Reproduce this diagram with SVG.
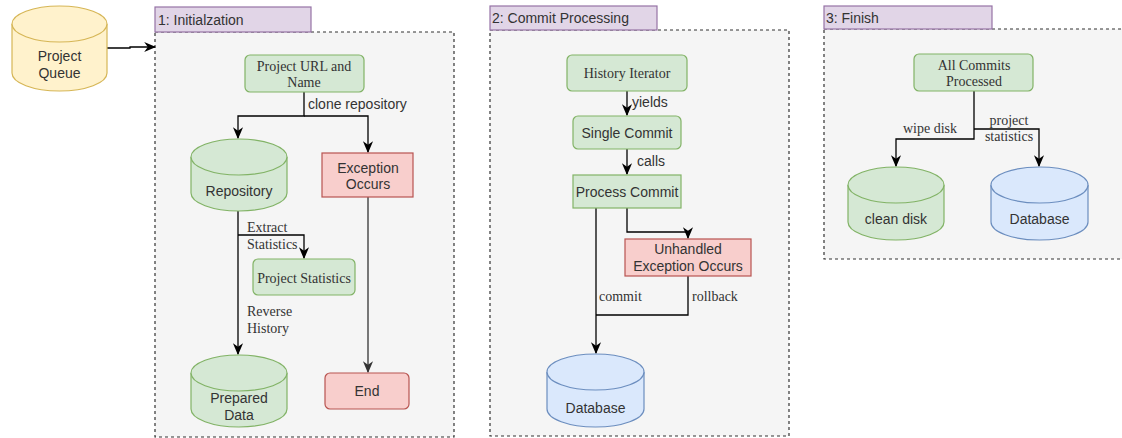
<svg xmlns="http://www.w3.org/2000/svg" width="1122" height="438" viewBox="0 0 1122 438">
<defs>
<marker id="arr" markerUnits="userSpaceOnUse" markerWidth="12" markerHeight="12" viewBox="0 0 10 10" refX="9" refY="5" orient="auto">
<path d="M0,0.8 L10,5 L0,9.2 L3,5 z" fill="#000"/>
</marker>
<marker id="arrg" markerUnits="userSpaceOnUse" markerWidth="12" markerHeight="12" viewBox="0 0 10 10" refX="9" refY="5" orient="auto">
<path d="M0,0.8 L10,5 L0,9.2 L3,5 z" fill="#333"/>
</marker>
</defs>
<style>
.sans{font-family:"Liberation Sans",Arial,sans-serif;font-size:14px;fill:#333}
.serif{font-family:"Liberation Serif","Times New Roman",serif;font-size:14px;fill:#333}
.c{text-anchor:middle;dominant-baseline:central}
.l{dominant-baseline:central}
.hdr{fill:#e1d5e7;stroke:#9673a6;stroke-width:1.2}
.cont{fill:#f5f5f5;stroke:#333;stroke-width:1.2;stroke-dasharray:3 3}
.green{fill:#d5e8d4;stroke:#82b366;stroke-width:1.2}
.red{fill:#f8cecc;stroke:#b85450;stroke-width:1.2}
.blue{fill:#dae8fc;stroke:#6c8ebf;stroke-width:1.2}
.yellow{fill:#fff2cc;stroke:#d6b656;stroke-width:1.2}
.edge{fill:none;stroke:#000;stroke-width:1.3}
.edgeg{fill:none;stroke:#777;stroke-width:2}
</style>

<g id="group1">
<rect class="cont" x="155" y="32" width="299" height="405"/>
<rect class="hdr" x="155" y="7" width="156" height="25"/>
<text class="sans l" x="158" y="19.5">1: Initialzation</text>
</g>
<g id="group2">
<rect class="cont" x="490" y="30" width="299" height="406"/>
<rect class="hdr" x="490" y="6" width="167" height="24"/>
<text class="sans l" x="492" y="18">2: Commit Processing</text>
</g>
<g id="group3">
<rect class="cont" x="824" y="29" width="300" height="230"/>
<rect class="hdr" x="824" y="6" width="168" height="23"/>
<text class="sans l" x="826" y="17.5">3: Finish</text>
</g>

<g id="connectors">
<path class="edge" d="M107,48 H130 V47 H155" marker-end="url(#arr)"/>
<path class="edge" d="M304,92 V116 H238 V138" marker-end="url(#arr)"/>
<path class="edge" d="M304,116 H368 V152" marker-end="url(#arr)"/>
<path class="edgeg" d="M368,197 V372" marker-end="url(#arrg)"/>
<path class="edge" d="M238,211 V354" marker-end="url(#arr)"/>
<path class="edge" d="M238,235 H304 V258" marker-end="url(#arr)"/>
<path class="edge" d="M627,91 V115" marker-end="url(#arr)"/>
<path class="edge" d="M627,149 V174" marker-end="url(#arr)"/>
<path class="edge" d="M596,208 V353" marker-end="url(#arr)"/>
<path class="edge" d="M627,208 V232 H688 V238" marker-end="url(#arr)"/>
<path class="edge" d="M688,276 V315 H596"/>
<path class="edge" d="M974,91 V139 H896 V166" marker-end="url(#arr)"/>
<path class="edge" d="M974,129 H1039 V166" marker-end="url(#arr)"/>
<text class="sans l" x="308" y="104">clone repository</text>
<text class="serif l" x="247" y="227">Extract</text>
<text class="serif l" x="247" y="244">Statistics</text>
<text class="serif l" x="247" y="311">Reverse</text>
<text class="serif l" x="247" y="328">History</text>
<text class="sans l" x="632" y="102">yields</text>
<text class="sans l" x="637" y="161">calls</text>
<text class="serif l" x="599" y="296">commit</text>
<text class="serif l" x="692" y="296">rollback</text>
<text class="serif l" x="903" y="128">wipe disk</text>
<text class="serif c" x="1009" y="120">project</text>
<text class="serif c" x="1009" y="136">statistics</text>
</g>

<g id="project-queue">
<path class="yellow" d="M12,24 a47.5,18 0 0 1 95,0 v49 a47.5,18 0 0 1 -95,0 z"/>
<path class="yellow" fill="none" d="M12,24 a47.5,18 0 0 0 95,0"/>
<text class="sans c" x="59.5" y="56">Project</text>
<text class="sans c" x="59.5" y="73">Queue</text>
</g>
<g id="project-url">
<rect class="green" x="245" y="55" width="119" height="37" rx="5"/>
<text class="serif c" x="304" y="66">Project URL and</text>
<text class="serif c" x="304" y="82">Name</text>
</g>
<g id="repository">
<path class="green" d="M191,157 a48,18 0 0 1 96,0 v36 a48,18 0 0 1 -96,0 z"/>
<path class="green" d="M191,157 a48,18 0 0 0 96,0"/>
<text class="sans c" x="239" y="191">Repository</text>
</g>
<g id="exception">
<rect class="red" x="322" y="153" width="91" height="44"/>
<text class="sans c" x="368" y="168">Exception</text>
<text class="sans c" x="368" y="184">Occurs</text>
</g>
<g id="project-statistics">
<rect class="green" x="253" y="259" width="102" height="36" rx="5"/>
<text class="serif c" x="304" y="278">Project Statistics</text>
</g>
<g id="prepared-data">
<path class="green" d="M191,373 a48,18 0 0 1 96,0 v36 a48,18 0 0 1 -96,0 z"/>
<path class="green" d="M191,373 a48,18 0 0 0 96,0"/>
<text class="sans c" x="239" y="398">Prepared</text>
<text class="sans c" x="239" y="415">Data</text>
</g>
<g id="end">
<rect class="red" x="325" y="373" width="84" height="36" rx="5"/>
<text class="sans c" x="367" y="391">End</text>
</g>
<g id="history-iterator">
<rect class="green" x="567" y="55" width="120" height="36" rx="5"/>
<text class="serif c" x="627" y="73">History Iterator</text>
</g>
<g id="single-commit">
<rect class="green" x="573" y="116" width="108" height="33" rx="5"/>
<text class="sans c" x="627" y="133">Single Commit</text>
</g>
<g id="process-commit">
<rect class="green" x="573" y="175" width="108" height="33"/>
<text class="sans c" x="627" y="192">Process Commit</text>
</g>
<g id="unhandled">
<rect class="red" x="625" y="239" width="126" height="37"/>
<text class="sans c" x="688" y="249">Unhandled</text>
<text class="sans c" x="688" y="266">Exception Occurs</text>
</g>
<g id="database-commit">
<path class="blue" d="M547,372 a48.5,18 0 0 1 97,0 v37 a48.5,18 0 0 1 -97,0 z"/>
<path class="blue" d="M547,372 a48.5,18 0 0 0 97,0"/>
<text class="sans c" x="595.5" y="408">Database</text>
</g>
<g id="all-commits">
<rect class="green" x="914" y="54" width="119" height="37" rx="5"/>
<text class="serif c" x="974" y="65">All Commits</text>
<text class="serif c" x="974" y="81">Processed</text>
</g>
<g id="clean-disk">
<path class="green" d="M848,185 a48,18 0 0 1 96,0 v37 a48,18 0 0 1 -96,0 z"/>
<path class="green" d="M848,185 a48,18 0 0 0 96,0"/>
<text class="sans c" x="896" y="219">clean disk</text>
</g>
<g id="database-finish">
<path class="blue" d="M991,185 a48.5,18 0 0 1 97,0 v37 a48.5,18 0 0 1 -97,0 z"/>
<path class="blue" d="M991,185 a48.5,18 0 0 0 97,0"/>
<text class="sans c" x="1039.5" y="219">Database</text>
</g>
</svg>
